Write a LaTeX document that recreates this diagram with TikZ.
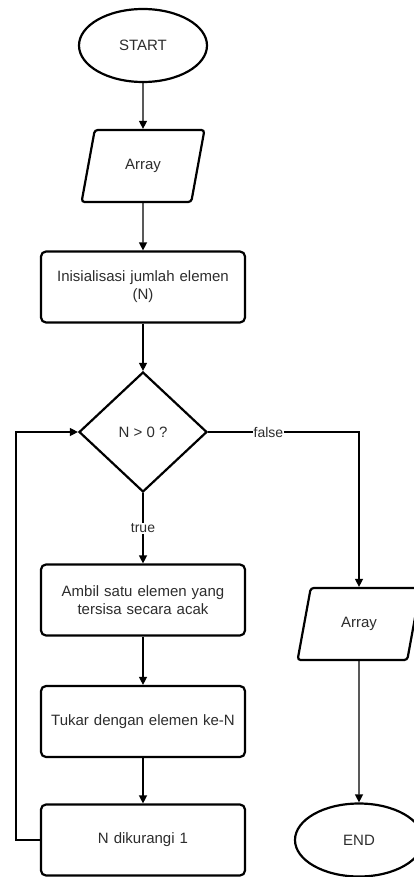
\documentclass[tikz,border=0pt]{standalone}
\usepackage{fontspec}
\setmainfont{Liberation Sans}
\usetikzlibrary{shapes.geometric,arrows.meta}
\definecolor{txt}{RGB}{45,45,45}
\tikzset{
  every node/.style={font=\fontsize{15}{18}\selectfont, text=txt},
  shp/.style={draw=black, line width=2.2pt, fill=white},
  procbox/.style={shp, rectangle, rounded corners=5pt, minimum width=204pt, minimum height=71pt, align=center, text width=190pt},
  term/.style={shp, ellipse, minimum width=128pt, minimum height=73pt, inner sep=0pt},
  iobox/.style={shp, trapezium, trapezium left angle=70, trapezium right angle=110, trapezium stretches=true, minimum width=123pt, minimum height=72pt, rounded corners=3pt, inner sep=0pt},
  decis/.style={shp, diamond, minimum width=128pt, minimum height=120pt, inner sep=0pt},
  conn/.style={line width=1.3pt, -{Triangle[length=8pt,width=8pt]}},
  lbl/.style={fill=white, inner sep=1pt, font=\fontsize{14}{16}\selectfont}
}
\begin{document}
\begin{tikzpicture}[x=1pt,y=-1pt]
\useasboundingbox (0,0) rectangle (414,877);
\clip (0,0) rectangle (414,877);
\fill[white] (0,0) rectangle (414,877);
\node[term] (start) at (143,45.5) {START};
\node[iobox] (arr1) at (143,166) {Array};
\node[procbox] (init) at (143,287) {Inisialisasi jumlah elemen\\(N)};
\node[decis] (dec) at (143,432) {N {>} 0 ?};
\node[procbox] (ambil) at (143,600) {Ambil satu elemen yang\\tersisa secara acak};
\node[procbox] (tukar) at (143,721.5) {Tukar dengan elemen ke-N};
\node[procbox] (kurang) at (143,840) {N dikurangi 1};
\node[iobox] (arr2) at (359,624) {Array};
\node[term] (endn) at (359,840) {END};
\coordinate (lp) at (16,840);
\draw[conn] (start) -- (arr1);
\draw[conn] (arr1) -- (init);
\draw[conn] (init) -- (dec);
\draw[conn] (dec) -- node[lbl, pos=0.5] {true} (ambil);
\draw[conn] (ambil) -- (tukar);
\draw[conn] (tukar) -- (kurang);
\draw[conn] (dec.east) -| node[lbl, pos=0.2] {false} (arr2.north);
\draw[conn] (arr2) -- (endn);
\draw[conn] (kurang.west) -- (lp) |- (dec.west);
\end{tikzpicture}
\end{document}
